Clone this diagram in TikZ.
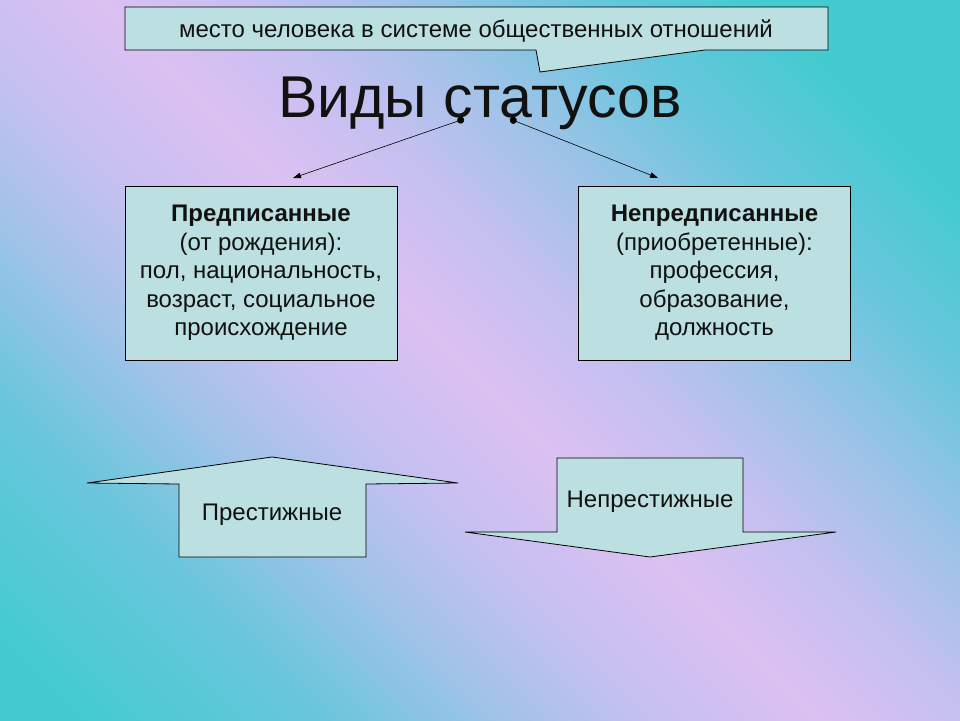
\documentclass[tikz,border=0pt]{standalone}
\usepackage{fontspec}
\setmainfont{Liberation Sans}
\usetikzlibrary{arrows.meta}
\definecolor{bgteal}{RGB}{68,203,208}
\definecolor{tealblue}{RGB}{105,198,220}
\definecolor{lightblue}{RGB}{160,195,232}
\definecolor{lavblue}{RGB}{195,192,240}
\definecolor{pinklav}{RGB}{220,192,242}
\definecolor{boxfill}{RGB}{188,224,225}
\definecolor{textc}{RGB}{17,17,17}
\pgfdeclarehorizontalshading{slidebg}{100bp}{color(0bp)=(bgteal); color(31bp)=(bgteal); color(37bp)=(tealblue); color(41.5bp)=(lightblue); color(45bp)=(lavblue); color(49.5bp)=(pinklav); color(53.5bp)=(lavblue); color(57bp)=(lightblue); color(61.5bp)=(tealblue); color(66bp)=(bgteal); color(100bp)=(bgteal)}
\begin{document}
\begin{tikzpicture}[x=1pt,y=-1pt,
  shapeline/.style={draw=black, line width=0.8pt, fill=boxfill},
  box/.style={shapeline, minimum width=272, minimum height=174, inner sep=0pt, align=center, text=textc, font=\fontsize{24}{28.5}\selectfont},
  lbl/.style={text=textc, font=\fontsize{24}{28}\selectfont, inner sep=0pt},
  conn/.style={line width=0.6pt, {Circle[length=7pt]}-{Triangle[length=8pt,width=5.5pt]}}]
\useasboundingbox (0,0) rectangle (960,720);
\begin{scope}
  \clip (0,0) rectangle (960,720);
  \shade[shading=slidebg, shading angle=45] (-227,-347) rectangle (1187,1067);
\end{scope}
% callout
\draw[shapeline] (125,7) -- (828,7) -- (828,50) -- (705,50) -- (540,72) -- (536,50) -- (125,50) -- cycle;
\node[lbl, anchor=base] (note) at (476,37) {место человека в системе общественных отношений};
% title
\node[text=textc, font=\fontsize{59}{70}\selectfont, anchor=base, inner sep=0pt] (title) at (480,117) {Виды статусов};
% boxes
\node[box] (asc) at (261,273) {\textbf{Предписанные}\\(от рождения):\\пол, национальность,\\возраст, социальное\\происхождение};
\node[box] (ach) at (714.5,273) {\textbf{Непредписанные}\\(приобретенные):\\профессия,\\образование,\\должность};
% connectors
\coordinate (d1) at (464,119);
\coordinate (t1) at (293,178);
\coordinate (d2) at (510,119);
\coordinate (t2) at (658,178);
\draw[conn] (d1) -- (t1);
\draw[conn] (d2) -- (t2);
% block arrows
\draw[shapeline] (87,483) -- (272,457) -- (458,483) -- (366,484) -- (366,557) -- (179,557) -- (179,484) -- cycle;
\node[lbl] (up) at (272,515) {Престижные};
\draw[shapeline] (557,458) -- (743,458) -- (743,532) -- (836,532) -- (650,557) -- (465,532) -- (557,532) -- cycle;
\node[lbl] (down) at (650,502) {Непрестижные};
\end{tikzpicture}
\end{document}
